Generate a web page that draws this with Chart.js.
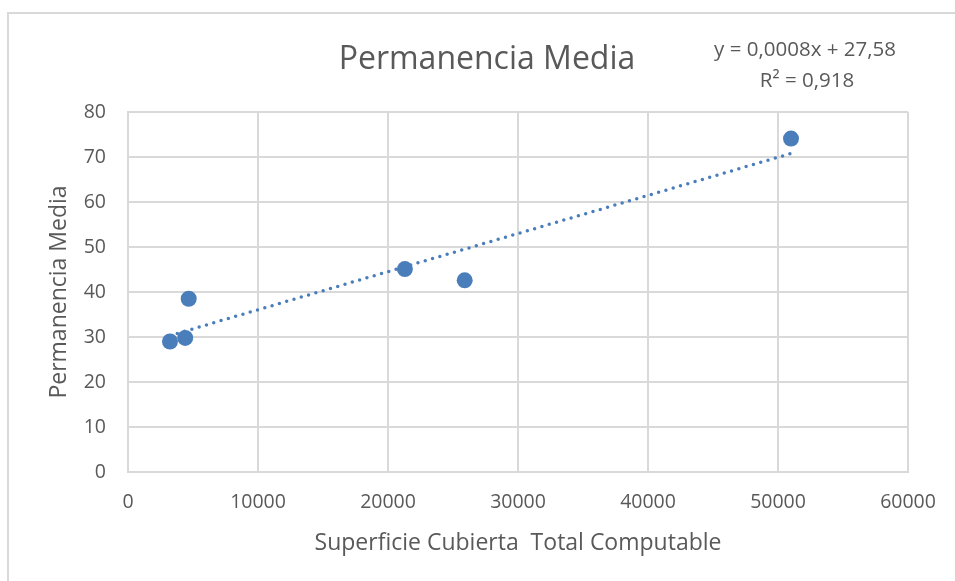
<!DOCTYPE html>
<html>
<head>
<meta charset="utf-8">
<script src="https://cdn.jsdelivr.net/npm/chart.js@4/dist/chart.umd.min.js"></script>
<style>
  html, body { margin: 0; padding: 0; background: #ffffff; }
  #wrap { position: relative; width: 955px; height: 581px; }
</style>
</head>
<body>
<div id="wrap"><canvas id="c" width="955" height="581"></canvas></div>
<script>
// ---- Data ----
const superficie = [3230, 4400, 4670, 21300, 25900, 51000];   // Superficie Cubierta Total Computable
const permanencia = [29.0, 29.8, 38.5, 45.1, 42.6, 74.1];      // Permanencia Media
const xTicks = [0, 10000, 20000, 30000, 40000, 50000, 60000];
const yTicks = [0, 10, 20, 30, 40, 50, 60, 70, 80];
const chartTitle = 'Permanencia Media';
const equationLines = ['y = 0,0008x + 27,58', 'R² = 0,918'];
const xTitle = 'Superficie Cubierta  Total Computable';
const yTitle = 'Permanencia Media';

// ---- Linear trend (least squares) from the data ----
function linearFit(xs, ys) {
  const n = xs.length;
  const mx = xs.reduce((a, b) => a + b, 0) / n;
  const my = ys.reduce((a, b) => a + b, 0) / n;
  let sxy = 0, sxx = 0;
  for (let i = 0; i < n; i++) { sxy += (xs[i] - mx) * (ys[i] - my); sxx += (xs[i] - mx) ** 2; }
  const m = sxy / sxx;
  return { m, b: my - m * mx };
}
const fit = linearFit(superficie, permanencia);
const xMin = Math.min(...superficie), xMax = Math.max(...superficie);
const trendPoints = [xMin, xMax].map(x => ({ x, y: fit.m * x + fit.b }));
const points = superficie.map((x, i) => ({ x, y: permanencia[i] }));

const BLUE = '#4a7ebb';
const TEXT = '#595959';
const GRID = '#d9d9d9';
const FONT = "'Open Sans', 'Noto Sans', sans-serif";

const decor = {
  id: 'decor',
  beforeDraw(chart) {
    const ctx = chart.ctx;
    ctx.save();
    ctx.fillStyle = '#ffffff';
    ctx.fillRect(0, 0, chart.width, chart.height);
    ctx.strokeStyle = GRID;
    ctx.lineWidth = 2;
    ctx.strokeRect(8, 13, 1000, 1000);
    ctx.restore();
  },
  afterDraw(chart) {
    const ctx = chart.ctx;
    ctx.save();
    ctx.fillStyle = TEXT;
    ctx.textAlign = 'center';
    ctx.textBaseline = 'alphabetic';
    ctx.font = "32px " + FONT;
    ctx.fillText(chartTitle, 487, 69);
    ctx.font = "20.5px " + FONT;
    ctx.fillText(equationLines[0], 805, 56);
    ctx.fillText(equationLines[1], 807, 87);
    ctx.restore();
  }
};

new Chart(document.getElementById('c'), {
  type: 'scatter',
  data: {
    datasets: [
      {
        label: 'Permanencia Media',
        data: points,
        backgroundColor: BLUE,
        borderColor: BLUE,
        pointRadius: 8,
        pointHoverRadius: 8,
        borderWidth: 0,
        order: 1
      },
      {
        label: 'Lineal',
        type: 'line',
        data: trendPoints,
        borderColor: BLUE,
        borderWidth: 3.5,
        borderDash: [0, 7.6],
        borderCapStyle: 'round',
        pointRadius: 0,
        fill: false,
        order: 2
      }
    ]
  },
  options: {
    responsive: false,
    animation: false,
    events: [],
    layout: { padding: { top: 112, right: 47, left: 0, bottom: 0 } },
    plugins: {
      legend: { display: false },
      title: { display: false },
      tooltip: { enabled: false }
    },
    scales: {
      x: {
        type: 'linear',
        min: xTicks[0],
        max: xTicks[xTicks.length - 1],
        afterBuildTicks: s => { s.ticks = xTicks.map(v => ({ value: v })); },
        afterFit: s => { s.height = 109; },
        grid: { color: GRID, lineWidth: 2, drawTicks: false },
        border: { color: GRID, width: 2 },
        ticks: { color: TEXT, font: { family: FONT, size: 19.5 }, padding: 19, callback: v => String(v) },
        title: { display: true, text: xTitle, color: TEXT, font: { family: FONT, size: 23 }, padding: { top: 0, bottom: 24 } }
      },
      y: {
        type: 'linear',
        min: yTicks[0],
        max: yTicks[yTicks.length - 1],
        afterBuildTicks: s => { s.ticks = yTicks.map(v => ({ value: v })); },
        afterFit: s => { s.width = 128; },
        grid: { color: GRID, lineWidth: 2, drawTicks: false },
        border: { color: GRID, width: 2 },
        ticks: { color: TEXT, font: { family: FONT, size: 19.5 }, padding: 22, callback: v => String(v) },
        title: { display: true, text: yTitle, color: TEXT, font: { family: FONT, size: 23 }, padding: { top: 46, bottom: 0 } }
      }
    }
  },
  plugins: [decor]
});
</script>
</body>
</html>
